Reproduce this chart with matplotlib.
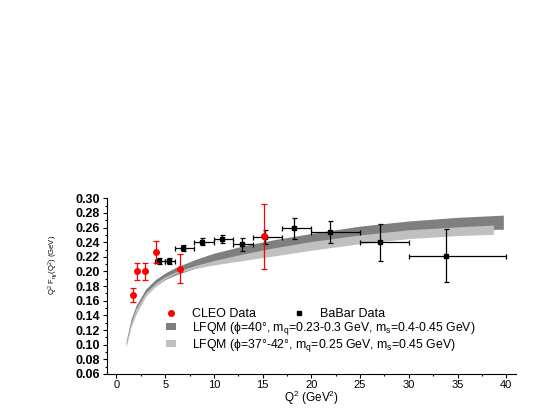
import numpy as np
import matplotlib
matplotlib.use("Agg")
import matplotlib.pyplot as plt
from matplotlib.lines import Line2D
from matplotlib.patches import Patch

plt.rcParams['font.family'] = ['Liberation Sans', 'DejaVu Sans']
plt.rcParams['mathtext.default'] = 'regular'

# CLEO Daten (rot)
cleo_q2 = [1.7, 2.15, 2.93, 4.09, 6.48, 15.18]
cleo_f = [0.168, 0.200, 0.200, 0.226, 0.204, 0.248]
cleo_err = [0.010, 0.011, 0.011, 0.015, 0.020, 0.044]

# BaBar Daten (schwarz), mit Q^2-Bins
babar_q2 = [4.40, 5.35, 6.82, 8.8, 10.81, 12.86, 15.2, 18.25, 21.93, 27.0, 33.78]
babar_lo = [4, 5, 6, 8, 10, 12, 14, 17, 20, 25, 30]
babar_hi = [5, 6, 8, 10, 12, 14, 17, 20, 25, 30, 40]
babar_f = [0.2143, 0.214, 0.232, 0.2407, 0.2444, 0.2372, 0.2476, 0.259, 0.254, 0.240, 0.2216]
babar_err = [0.004, 0.004, 0.004, 0.0046, 0.006, 0.009, 0.0096, 0.014, 0.015, 0.025, 0.036]

# LFQM Baender
band_q2 = [1.0, 1.5, 2.0, 3.0, 4.0, 5.0, 6.0, 8.0, 10, 13, 16, 20, 25, 30, 35]
dark_top = [0.105, 0.135, 0.153, 0.176, 0.189, 0.198, 0.205, 0.216, 0.225, 0.235, 0.243, 0.252, 0.262, 0.269, 0.274]
dark_bot = [0.100, 0.127, 0.145, 0.167, 0.180, 0.189, 0.195, 0.204, 0.211, 0.220, 0.228, 0.237, 0.246, 0.253, 0.257]
light_top = [0.103, 0.131, 0.149, 0.171, 0.184, 0.193, 0.199, 0.208, 0.215, 0.224, 0.232, 0.241, 0.250, 0.257, 0.261]
light_bot = [0.097, 0.124, 0.141, 0.166, 0.180, 0.190, 0.197, 0.204, 0.209, 0.215, 0.221, 0.229, 0.238, 0.245, 0.249]
dark_end = (39.7, 0.2577, 0.277)
light_end = (38.7, 0.2508, 0.2635)

dark_q2 = band_q2 + [dark_end[0]]
light_q2 = band_q2 + [light_end[0]]

fig = plt.figure(figsize=(5.54, 4.15), dpi=100)
ax = fig.add_axes([0.1926, 0.0988, 0.7388, 0.4234])

ax.fill_between(dark_q2, dark_bot + [dark_end[1]], dark_top + [dark_end[2]],
                color='#7f7f7f', lw=0, zorder=1)
ax.fill_between(light_q2, light_bot + [light_end[1]], light_top + [light_end[2]],
                color='#c0c0c0', lw=0, zorder=2)

bq = np.array(babar_q2)
xerr = [bq - np.array(babar_lo), np.array(babar_hi) - bq]
ax.errorbar(babar_q2, babar_f, yerr=babar_err, xerr=xerr, fmt='s', color='black',
            ms=3.5, elinewidth=0.9, capsize=1.8, capthick=0.9, zorder=3)
ax.errorbar(cleo_q2, cleo_f, yerr=cleo_err, fmt='o', color='red',
            ms=4, elinewidth=0.9, capsize=2.5, capthick=0.9, zorder=4)

ax.set_xlim(-1, 41)
ax.set_ylim(0.06, 0.30)
ax.set_xticks(np.arange(0, 41, 5))
ax.set_xticks(np.arange(2.5, 41, 5), minor=True)
ax.set_yticks(np.arange(0.06, 0.301, 0.02))
ax.set_yticks(np.arange(0.07, 0.30, 0.02), minor=True)
ax.set_yticklabels(['%.2f' % v for v in np.arange(0.06, 0.301, 0.02)])
ax.spines['top'].set_visible(False)
ax.spines['right'].set_visible(False)
ax.tick_params(axis='both', which='major', length=3, width=0.8, pad=2)
ax.tick_params(axis='both', which='minor', length=1.5, width=0.8)
ax.tick_params(axis='x', labelsize=8, pad=1.5)
ax.tick_params(axis='y', labelsize=9)
for lab in ax.get_yticklabels():
    lab.set_fontweight('bold')

ax.set_xlabel(r'Q$^2$ (GeV$^2$)', fontsize=8.5, labelpad=-1)
ax.set_ylabel(r'Q$^2$ F$_{\eta\gamma}$(Q$^2$) (GeV)', fontsize=5.5)
ax.yaxis.set_label_coords(-0.115, 0.62)

h1 = [Line2D([], [], ls='none', marker='o', color='red', ms=4),
      Line2D([], [], ls='none', marker='s', color='black', ms=3)]
leg1 = ax.legend(h1, ['CLEO Data', 'BaBar Data'], ncol=2, frameon=False, fontsize=9,
                 loc='upper left', bbox_to_anchor=(0.145, 0.375), handlelength=0.8,
                 handletextpad=1.3, columnspacing=3.0, borderaxespad=0, borderpad=0)
ax.add_artist(leg1)
h2 = [Patch(color='#7f7f7f', lw=0), Patch(color='#c0c0c0', lw=0)]
ax.legend(h2, [r'LFQM ($\phi$=40°, m$_q$=0.23-0.3 GeV, m$_s$=0.4-0.45 GeV)',
               r'LFQM ($\phi$=37°-42°, m$_q$=0.25 GeV, m$_s$=0.45 GeV)'],
          frameon=False, fontsize=8.8, loc='upper left', bbox_to_anchor=(0.145, 0.31),
          handlelength=0.8, handleheight=0.5, handletextpad=1.35, labelspacing=0.0,
          borderaxespad=0, borderpad=0)

fig.savefig('out.png', dpi=100)
